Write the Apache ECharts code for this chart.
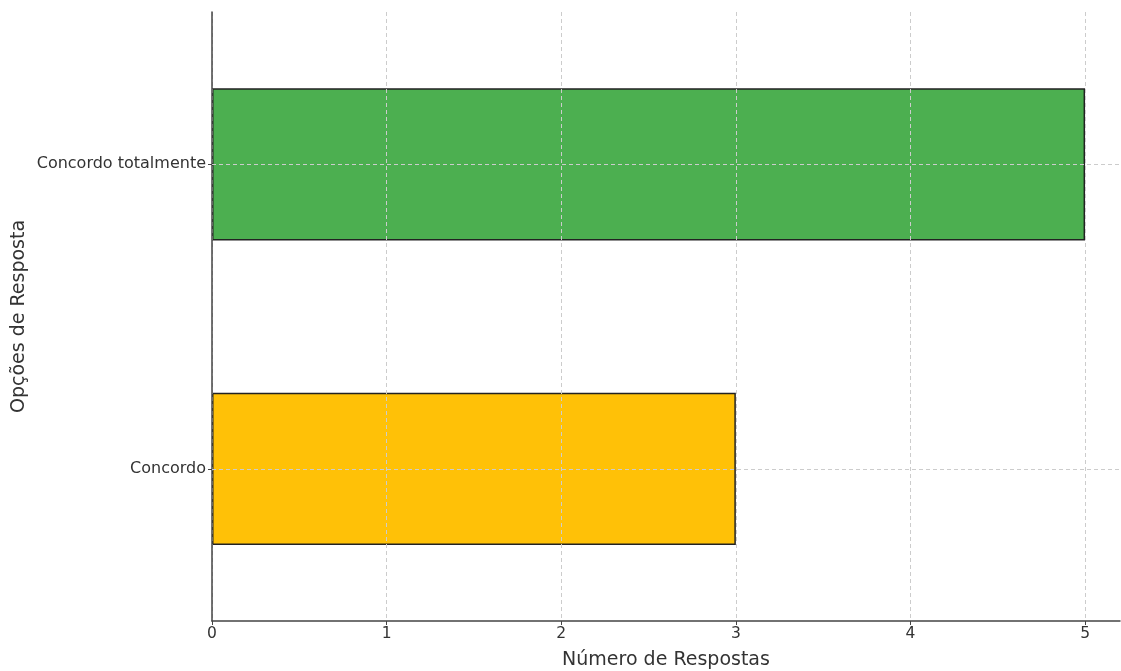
<!DOCTYPE html>
<html><head><meta charset="utf-8">
<script src="https://cdn.jsdelivr.net/npm/echarts@6/dist/echarts.min.js"></script>
<style>html,body{margin:0;padding:0;background:#fff}#c{width:1121px;height:671px}</style>
</head><body><div id="c"></div>
<script>
const categories = ['Concordo', 'Concordo totalmente'];
const values = [3, 5];
const barColors = ['#FFC107', '#4CAF50'];
const xTicks = [0, 1, 2, 3, 4, 5];

const chart = echarts.init(document.getElementById('c'));
chart.setOption({
  animation: false,
  grid: { left: 212, right: 1, top: 12, bottom: 50, containLabel: false, outerBoundsMode: 'none' },
  xAxis: {
    type: 'value', min: 0, max: 5.2, interval: 1, z: 5,
    name: 'Número de Respostas', nameLocation: 'middle', nameGap: 30, nameMoveOverlap: false,
    nameTextStyle: { fontSize: 19, color: '#333', fontFamily: 'DejaVu Sans' },
    axisLine: { show: true, lineStyle: { color: '#444', width: 1.5 } },
    axisTick: { show: true, length: 4, lineStyle: { color: '#444' }, customValues: xTicks },
    axisLabel: { fontSize: 15.5, color: '#333', margin: 5, fontFamily: 'DejaVu Sans', customValues: xTicks },
    splitLine: { show: true, lineStyle: { color: '#ccc', type: [4, 3], width: 1 } }
  },
  yAxis: {
    type: 'category', data: categories, z: 5,
    name: 'Opções de Resposta', nameLocation: 'middle', nameGap: 183, nameMoveOverlap: false,
    nameTextStyle: { fontSize: 19, color: '#333', fontFamily: 'DejaVu Sans' },
    axisLine: { show: true, lineStyle: { color: '#444', width: 1.5 } },
    axisTick: { show: true, alignWithLabel: true, length: 4, lineStyle: { color: '#444' } },
    axisLabel: { fontSize: 16, color: '#333', margin: 6, fontFamily: 'DejaVu Sans' },
    splitLine: { show: false }
  },
  series: [{
    type: 'bar', barWidth: '50%', z: 2,
    data: values.map((v, i) => ({ value: v, itemStyle: { color: barColors[i] } })),
    itemStyle: { borderColor: '#222', borderWidth: 1.5 },
    markLine: {
      silent: true, symbol: 'none', label: { show: false }, z: 6,
      lineStyle: { color: '#ccc', type: [4, 3], width: 1 },
      data: categories.map(c => ({ yAxis: c }))
    }
  }]
});
</script></body></html>
